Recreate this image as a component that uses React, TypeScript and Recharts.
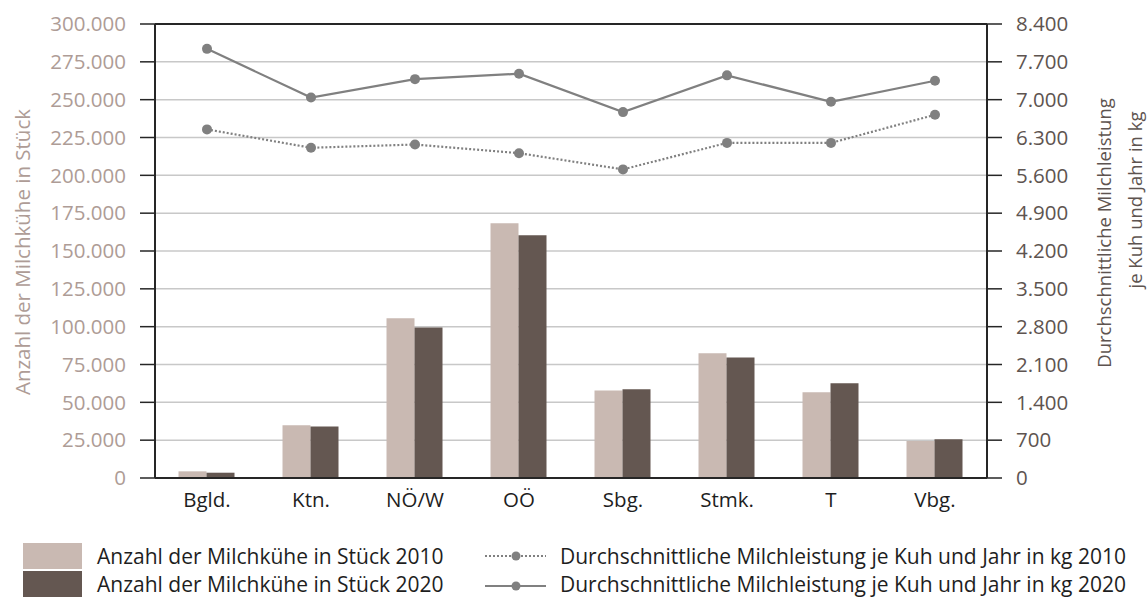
import React from 'react';
import { ComposedChart, Bar, Line, XAxis, YAxis, CartesianGrid, ReferenceLine } from 'recharts';

const categories = ['Bgld.', 'Ktn.', 'NÖ/W', 'OÖ', 'Sbg.', 'Stmk.', 'T', 'Vbg.'];
const cows2010 = [4400, 34800, 105500, 168300, 57900, 82400, 56600, 24500];
const cows2020 = [3500, 34100, 99500, 160400, 58600, 79700, 62600, 25600];
const milk2010 = [6450, 6110, 6170, 6010, 5710, 6200, 6200, 6720];
const milk2020 = [7940, 7040, 7380, 7480, 6770, 7450, 6960, 7350];
const leftTicks = [0, 25000, 50000, 75000, 100000, 125000, 150000, 175000, 200000, 225000, 250000, 275000, 300000];
const rightTicks = [0, 700, 1400, 2100, 2800, 3500, 4200, 4900, 5600, 6300, 7000, 7700, 8400];
const barNames = ['Anzahl der Milchkühe in Stück 2010', 'Anzahl der Milchkühe in Stück 2020'];
const lineNames = ['Durchschnittliche Milchleistung je Kuh und Jahr in kg 2010', 'Durchschnittliche Milchleistung je Kuh und Jahr in kg 2020'];
const leftTitle = 'Anzahl der Milchkühe in Stück';
const rightTitle = ['Durchschnittliche Milchleistung', 'je Kuh und Jahr in kg'];

const data = categories.map((c, i) => ({
  name: c,
  c2010: cows2010[i],
  c2020: cows2020[i],
  m2010: milk2010[i],
  m2020: milk2020[i],
}));

const fmt = (n: number) => n.toString().replace(/\B(?=(\d{3})+(?!\d))/g, '.');

const FONT = '"Open Sans", sans-serif';
const C_BAR1 = '#C9B9B2';
const C_BAR2 = '#645751';
const C_LINE = '#808080';
const C_LEFT = '#AE9C96';
const C_RIGHT = '#5E5450';
const C_AXIS = '#262626';
const C_TEXT = '#1E1E1E';
const FS = 20.5;

export default function App() {
  return (
    <div style={{ position: 'absolute', left: 0, top: 0, width: 1148, height: 597, background: '#fff', fontFamily: FONT }}>
      <ComposedChart
        width={1148}
        height={597}
        data={data}
        margin={{ top: 24, left: 55, right: 61, bottom: 89 }}
        barCategoryGap="22.6%"
        barGap={0}
      >
        <CartesianGrid vertical={false} stroke="#C8C8C8" strokeWidth={1.5} yAxisId="left" />
        <XAxis
          dataKey="name"
          height={30}
          tickLine={false}
          axisLine={{ stroke: C_AXIS, strokeWidth: 2 }}
          tickMargin={8}
          tick={{ fill: C_TEXT, fontSize: FS, fontFamily: FONT }}
          interval={0}
        />
        <YAxis
          yAxisId="left"
          orientation="left"
          width={100}
          domain={[0, 300000]}
          ticks={leftTicks}
          tickFormatter={fmt}
          tickSize={15}
          tickMargin={14}
          tickLine={{ stroke: C_AXIS, strokeWidth: 1.5 }}
          axisLine={{ stroke: C_AXIS, strokeWidth: 2 }}
          tick={{ fill: C_LEFT, fontSize: FS, fontFamily: FONT }}
          interval={0}
        />
        <YAxis
          yAxisId="right"
          orientation="right"
          width={100}
          domain={[0, 8400]}
          ticks={rightTicks}
          tickFormatter={fmt}
          tickSize={15}
          tickMargin={14}
          tickLine={{ stroke: C_AXIS, strokeWidth: 1.5 }}
          axisLine={{ stroke: C_AXIS, strokeWidth: 2 }}
          tick={{ fill: C_RIGHT, fontSize: FS, fontFamily: FONT }}
          interval={0}
        />
        <ReferenceLine yAxisId="left" y={300000} stroke={C_AXIS} strokeWidth={2} />
        <Bar yAxisId="left" dataKey="c2010" name={barNames[0]} fill={C_BAR1} isAnimationActive={false} />
        <Bar yAxisId="left" dataKey="c2020" name={barNames[1]} fill={C_BAR2} isAnimationActive={false} />
        <Line
          yAxisId="right"
          type="linear"
          dataKey="m2010"
          name={lineNames[0]}
          stroke={C_LINE}
          strokeWidth={2.2}
          strokeDasharray="2 2"
          dot={{ r: 5, fill: C_LINE, stroke: 'none' }}
          activeDot={false}
          isAnimationActive={false}
        />
        <Line
          yAxisId="right"
          type="linear"
          dataKey="m2020"
          name={lineNames[1]}
          stroke={C_LINE}
          strokeWidth={2.2}
          dot={{ r: 5, fill: C_LINE, stroke: 'none' }}
          activeDot={false}
          isAnimationActive={false}
        />
      </ComposedChart>
      <svg width={1148} height={597} style={{ position: 'absolute', left: 0, top: 0, pointerEvents: 'none' }}>
        <text
          transform="translate(22,252) rotate(-90)"
          textAnchor="middle"
          dominantBaseline="central"
          fill={C_LEFT}
          fontSize={20.5}
          fontFamily={FONT}
        >
          {leftTitle}
        </text>
        <text
          transform="translate(1103,233) rotate(-90)"
          textAnchor="middle"
          dominantBaseline="central"
          fill={C_RIGHT}
          fontSize={18.5}
          fontFamily={FONT}
        >
          {rightTitle[0]}
        </text>
        <text
          transform="translate(1134,200) rotate(-90)"
          textAnchor="middle"
          dominantBaseline="central"
          fill={C_RIGHT}
          fontSize={18.5}
          fontFamily={FONT}
        >
          {rightTitle[1]}
        </text>
        <rect x={23} y={543} width={59} height={26} fill={C_BAR1} />
        <rect x={23} y={571} width={59} height={26} fill={C_BAR2} />
        <text x={97} y={556} dominantBaseline="central" fill={C_TEXT} fontSize={21} fontFamily={FONT}>{barNames[0]}</text>
        <text x={97} y={584} dominantBaseline="central" fill={C_TEXT} fontSize={21} fontFamily={FONT}>{barNames[1]}</text>
        <line x1={485} y1={556} x2={546} y2={556} stroke={C_LINE} strokeWidth={2} strokeDasharray="2 2" />
        <circle cx={516} cy={556} r={4.5} fill={C_LINE} />
        <line x1={485} y1={586} x2={546} y2={586} stroke={C_LINE} strokeWidth={2} />
        <circle cx={516} cy={586} r={4.5} fill={C_LINE} />
        <text x={560} y={556} dominantBaseline="central" fill={C_TEXT} fontSize={21} fontFamily={FONT}>{lineNames[0]}</text>
        <text x={560} y={584} dominantBaseline="central" fill={C_TEXT} fontSize={21} fontFamily={FONT}>{lineNames[1]}</text>
      </svg>
    </div>
  );
}
